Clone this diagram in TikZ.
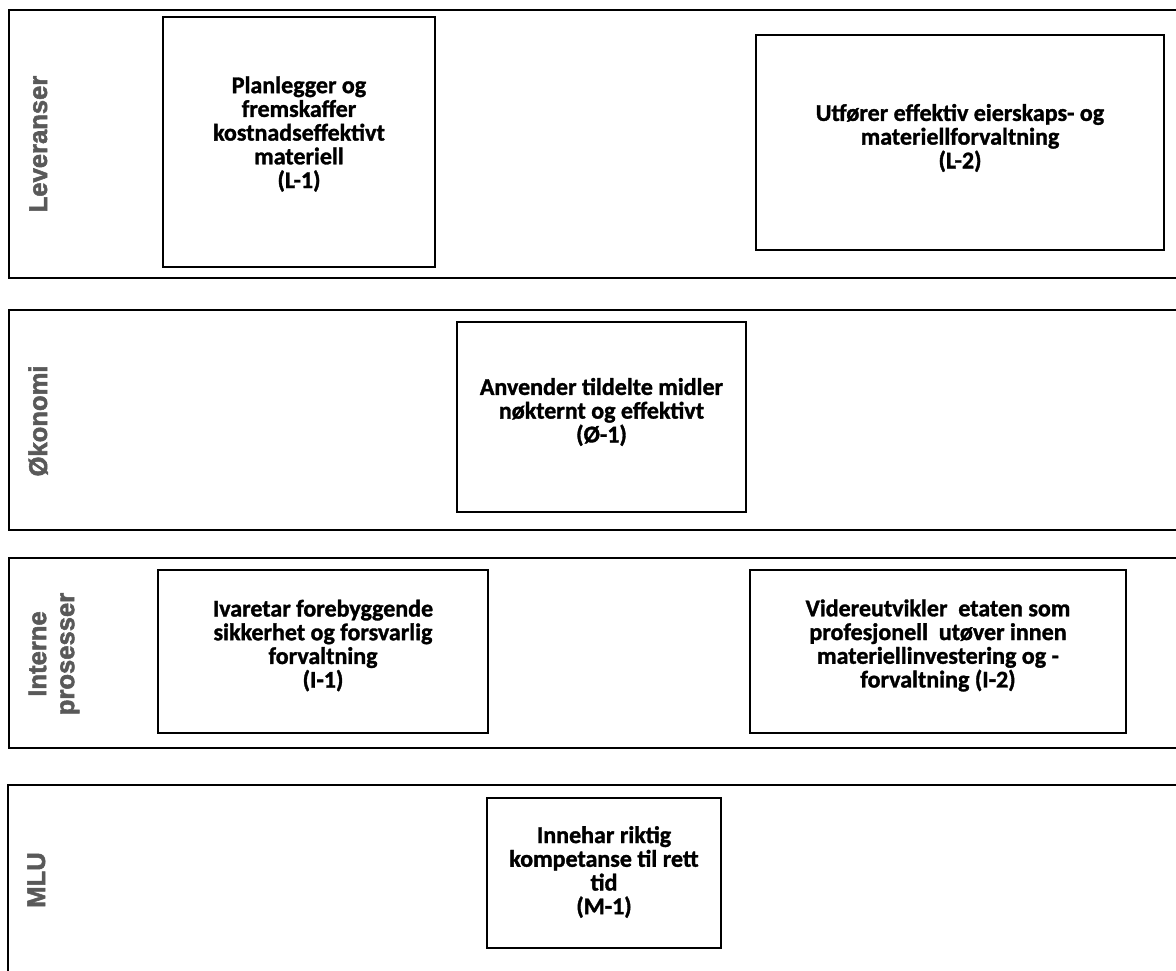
\documentclass[tikz,border=0pt]{standalone}
\usepackage{fontspec}
\setmainfont{Carlito}[BoldFeatures={FakeBold=1.3}]
\newfontfamily\labfont{Liberation Sans}[BoldFeatures={FakeBold=2}]
\definecolor{labgray}{HTML}{595959}
\begin{document}
\begin{tikzpicture}[x=0.75pt,y=-0.75pt,
  band/.style={draw, line width=2pt},
  goal/.style={draw, line width=2.2pt, inner sep=0pt},
  goaltext/.style={align=center, font=\fontsize{18}{17.8}\selectfont\bfseries, inner sep=0pt},
  lab/.style={rotate=90, font=\labfont\fontsize{19.2}{21}\selectfont\bfseries, text=labgray, inner sep=0pt, align=center}]
\clip (0,0) rectangle (1176,970);
\fill[white] (0,0) rectangle (1176,970);
% bands
\draw[band] (9,10) rectangle (1200,278);
\draw[band] (9,310) rectangle (1200,530);
\draw[band] (9,558) rectangle (1200,748);
\draw[band] (8,785) rectangle (1200,990);
% side labels
\node[lab, anchor=base] (labL) at (47,144) {Leveranser};
\node[lab, anchor=base] (labO) at (47,421) {Økonomi};
\node[lab] (labI) at (54,654) {Interne\\prosesser};
\node[lab, anchor=base] (labM) at (45,880) {MLU};
% goal boxes
\node[goal, minimum width=204pt, minimum height=187.5pt] (L1) at (299,142) {};
\node[goaltext] (L1t) at (299,134) {Planlegger og\\fremskaffer\\kostnadseffektivt\\materiell\\(L-1)};
\node[goal, minimum width=306pt, minimum height=161.25pt] (L2) at (960,142.5) {};
\node[goaltext] (L2t) at (960,138) {Utfører effektiv eierskaps- og\\materiellforvaltning\\(L-2)};
\node[goal, minimum width=216.75pt, minimum height=142.5pt] (O1) at (601.5,417) {};
\node[goaltext] (O1t) at (601.5,412) {Anvender tildelte midler\\nøkternt og effektivt\\(Ø-1)};
\node[goal, minimum width=247.5pt, minimum height=122.25pt] (I1) at (323,651.5) {};
\node[goaltext] (I1t) at (323,645.5) {Ivaretar forebyggende\\sikkerhet og forsvarlig\\forvaltning\\(I-1)};
\node[goal, minimum width=282pt, minimum height=122.25pt] (I2) at (938,651.5) {};
\node[goaltext] (I2t) at (938,645.5) {Videreutvikler\ \ etaten som\\profesjonell\ \ utøver innen\\materiellinvestering og -\\forvaltning (I-2)};
\node[goal, minimum width=175.5pt, minimum height=112.5pt] (M1) at (604,873) {};
\node[goaltext] (M1t) at (604,872) {Innehar riktig\\kompetanse til rett\\tid\\(M-1)};
\end{tikzpicture}
\end{document}
